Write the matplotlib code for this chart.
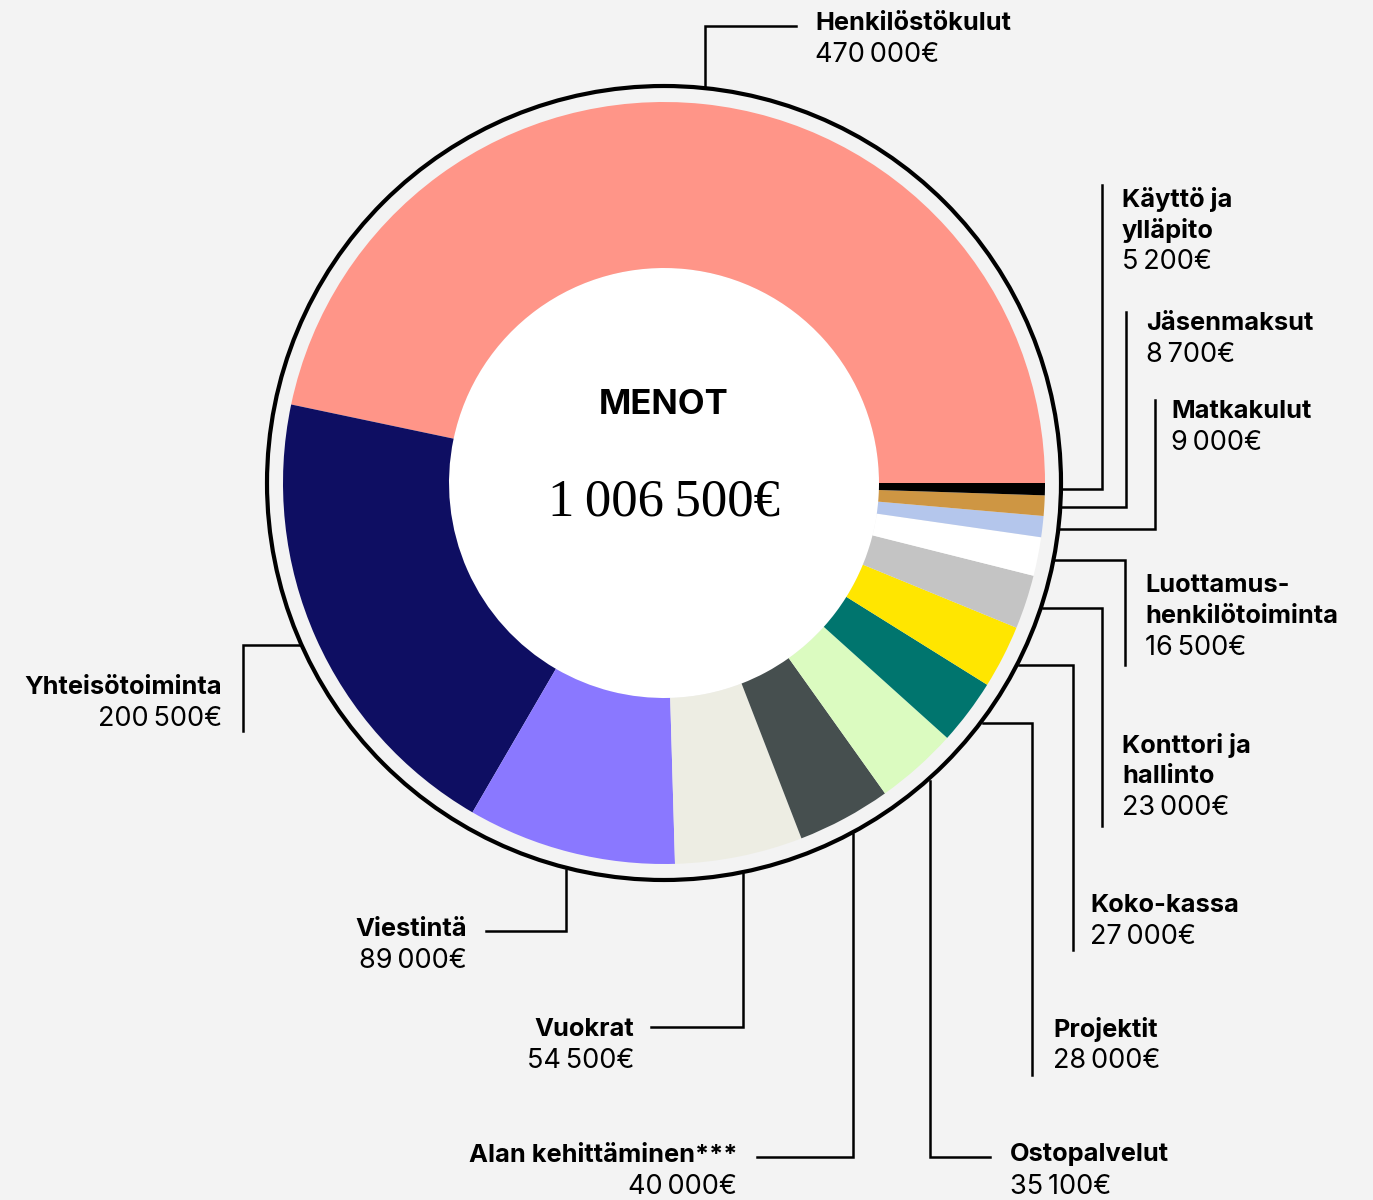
import numpy as np
import matplotlib
matplotlib.use("Agg")
import matplotlib.pyplot as plt
from matplotlib.patches import Circle

# menot (euroa), järjestys vastapäivään klo 3 suunnasta
categories = ["Henkilöstökulut", "Yhteisötoiminta", "Viestintä", "Vuokrat",
              "Alan kehittäminen***", "Ostopalvelut", "Projektit", "Koko-kassa",
              "Konttori ja\nhallinto", "Luottamus-\nhenkilötoiminta", "Matkakulut",
              "Jäsenmaksut", "Käyttö ja\nylläpito"]
values = [470000, 200500, 89000, 54500, 40000, 35100, 28000, 27000,
          23000, 16500, 9000, 8700, 5200]
colors = ["#FF9588", "#0E0E62", "#8A78FF", "#EDEDE3", "#464F4F", "#DBFBC0",
          "#00756E", "#FFE600", "#C4C4C4", "#FFFFFF", "#B4C6EC", "#CE9643",
          "#000000"]
title = "MENOT"

# label layout (pixels): kind, elbow, end, text x, text y, alignment
layout = [
    ("v", 26, 796, 815, 24, "left"),
    ("h", 243, 731, 222, 688, "right"),
    ("v", 931, 486, 467, 929, "right"),
    ("v", 1027, 651, 634, 1029, "right"),
    ("v", 1157, 757, 737, 1155, "right"),
    ("v", 1157, 990, 1010, 1155, "left"),
    ("h", 1032, 1075, 1053, 1029, "left"),
    ("h", 1073, 950, 1090, 905, "left"),
    ("h", 1102, 826, 1122, 745, "left"),
    ("h", 1125, 665, 1145, 585, "left"),
    ("h", 1155, 400, 1171, 412, "left"),
    ("h", 1126, 312, 1146, 324, "left"),
    ("h", 1102, 185, 1122, 199, "left"),
]

W, H = 1373, 1200
cx, cy = 664, 483
r_out, r_in, r_ring = 381, 215, 397
bg = "#F3F3F3"
sans = ["Inter", "DejaVu Sans"]
line_h = 31.5


def fmt(v):
    return f"{v:,}".replace(",", "\u2009") + "€"


fig = plt.figure(figsize=(W / 100, H / 100), dpi=100, facecolor=bg)
ax = fig.add_axes([0, 0, 1, 1])
ax.set_facecolor(bg)

wedges, _ = ax.pie(values, colors=colors, startangle=0, counterclock=False,
                   radius=r_out, center=(cx, cy),
                   wedgeprops=dict(width=r_out - r_in, linewidth=0))
ax.add_patch(Circle((cx, cy), r_in, fc="white", ec="none", zorder=0.5))
ax.add_patch(Circle((cx, cy), r_ring, fill=False, ec="black", lw=3.0, zorder=3))

ax.set_xlim(0, W)
ax.set_ylim(H, 0)
ax.set_aspect("equal")
ax.axis("off")

# leader lines + labels
for w, name, val, (kind, elbow, end, tx, ty, ha) in zip(wedges, categories, values, layout):
    a = np.deg2rad((w.theta1 + w.theta2) / 2)
    ax_, ay_ = cx + (r_ring + 2) * np.cos(a), cy + (r_ring + 2) * np.sin(a)
    if kind == "h":
        xs, ys = [ax_, elbow, elbow], [ay_, ay_, end]
    else:
        xs, ys = [ax_, ax_, end], [ay_, elbow, elbow]
    ax.plot(xs, ys, color="black", lw=1.8, solid_joinstyle="miter", zorder=2)

    lines = name.split("\n")
    for i, ln in enumerate(lines):
        ax.text(tx, ty + i * line_h, ln, ha=ha, va="center", fontsize=18.3,
                fontweight="bold", family=sans, color="black")
    ax.text(tx, ty + len(lines) * line_h, fmt(val), ha=ha, va="center",
            fontsize=19.5, fontweight="normal", family=sans, color="black")

ax.text(cx, 405, title, ha="center", va="center", fontsize=25,
        fontweight="bold", family=sans)
ax.text(cx, 502, fmt(sum(values)), ha="center", va="center", fontsize=38,
        family=["Liberation Serif", "DejaVu Serif"])

fig.savefig("out.png", dpi=100, facecolor=bg)
